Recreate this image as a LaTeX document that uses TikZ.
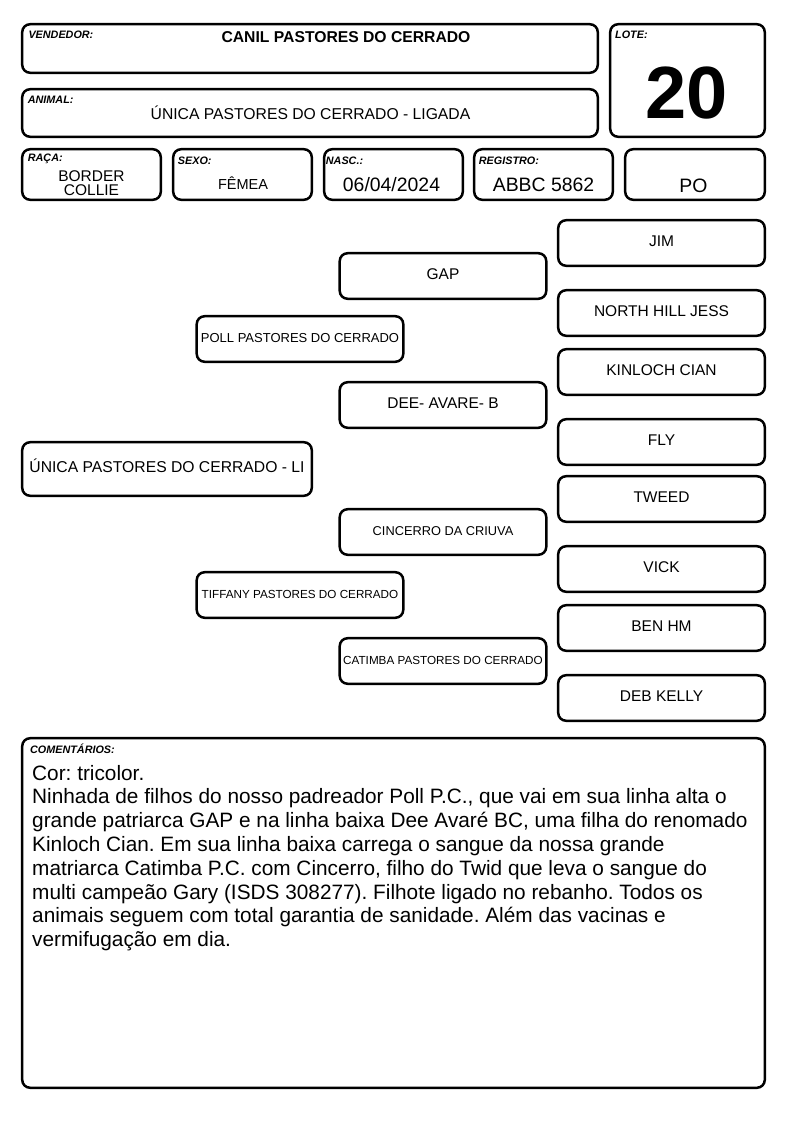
\documentclass[tikz,border=0pt]{standalone}
\usepackage{fontspec}
\setmainfont{Liberation Sans}
\frenchspacing
\begin{document}
\begin{tikzpicture}[x=1pt,y=-1pt,
  box/.style={draw=black, line width=2.5pt, rounded corners=8pt, inner sep=0pt, outer sep=0pt},
  lbl/.style={font=\fontsize{10.8}{12}\selectfont\bfseries\itshape, inner sep=0pt, anchor=base west},
  val/.style={font=\fontsize{15.5}{18}\selectfont, inner sep=0pt, anchor=base},
  bigval/.style={font=\fontsize{19.4}{22}\selectfont, inner sep=0pt, anchor=base},
  ped/.style={box, minimum width=206.6pt, minimum height=45.6pt, font=\fontsize{15.5}{18}\selectfont, text height=0.72em, text depth=0pt},
  pedsmall/.style={ped, font=\fontsize{13}{15}\selectfont},
  pedtiny/.style={ped, font=\fontsize{11.7}{14}\selectfont},
]
\useasboundingbox (0,0) rectangle (794,1123);

% header boxes
\node[box, minimum width=575.6pt, minimum height=48.6pt] (vend) at (310,48.5) {};
\node[box, minimum width=575.6pt, minimum height=47.6pt] (anim) at (310,113) {};
\node[box, minimum width=154.6pt, minimum height=112.6pt] (lote) at (687.5,80.5) {};
\node[box, minimum width=138.6pt, minimum height=50.6pt] (raca) at (91.5,174.5) {};
\node[box, minimum width=138.6pt, minimum height=50.6pt] (sexo) at (242.5,174.5) {};
\node[box, minimum width=138.6pt, minimum height=50.6pt] (nasc) at (393.5,174.5) {};
\node[box, minimum width=138.6pt, minimum height=50.6pt] (regi) at (543.5,174.5) {};
\node[box, minimum width=139.6pt, minimum height=50.6pt] (tipo) at (695,174.5) {};

% labels
\node[lbl] (lvend) at (28.3,39) {VENDEDOR:};
\node[lbl] (lanim) at (27.7,103.3) {ANIMAL:};
\node[lbl] (llote) at (615,38.3) {LOTE:};
\node[lbl] (lraca) at (27.7,161.7) {RAÇA:};
\node[lbl] (lsexo) at (177.7,165) {SEXO:};
\node[lbl] (lnasc) at (325.7,165) {NASC.:};
\node[lbl] (lregi) at (478.7,165) {REGISTRO:};

% values
\node[val, font=\fontsize{15.7}{18}\selectfont\bfseries] (vvend) at (346,43) {CANIL PASTORES DO CERRADO};
\node[val, font=\fontsize{15.7}{18}\selectfont] (vanim) at (310.5,120) {ÚNICA PASTORES DO CERRADO - LIGADA};
\node[val, font=\fontsize{74}{80}\selectfont\bfseries] (vlote) at (686.5,118.5) {20};
\node[val] (vraca1) at (91.5,181.7) {BORDER};
\node[val] (vraca2) at (91.5,195.3) {COLLIE};
\node[val, font=\fontsize{14.5}{17}\selectfont] (vsexo) at (243,190) {FÊMEA};
\node[bigval] (vnasc) at (391.5,192) {06/04/2024};
\node[bigval] (vregi) at (543.5,192) {ABBC 5862};
\node[bigval] (vtipo) at (693.5,192.5) {PO};

% pedigree
\node[box, minimum width=289.6pt, minimum height=53.6pt, font=\fontsize{15.7}{18}\selectfont, text height=0.72em, text depth=0pt] (p0) at (167,469) {ÚNICA PASTORES DO CERRADO - LI};
\node[pedsmall] (p1) at (300,339) {POLL PASTORES DO CERRADO};
\node[pedtiny] (p2) at (300,595) {TIFFANY PASTORES DO CERRADO};
\node[ped] (p3) at (443,276) {GAP};
\node[ped] (p4) at (443,405) {DEE- AVARE- B};
\node[pedsmall, font=\fontsize{12.8}{15}\selectfont] (p5) at (443,532) {CINCERRO DA CRIUVA};
\node[pedtiny] (p6) at (443,661) {CATIMBA PASTORES DO CERRADO};
\node[ped] (p7) at (661.5,243) {JIM};
\node[ped] (p8) at (661.5,313) {NORTH HILL JESS};
\node[ped] (p9) at (661.5,372) {KINLOCH CIAN};
\node[ped] (p10) at (661.5,442) {FLY};
\node[ped] (p11) at (661.5,499) {TWEED};
\node[ped] (p12) at (661.5,569) {VICK};
\node[ped] (p13) at (661.5,628) {BEN HM};
\node[ped] (p14) at (661.5,698) {DEB KELLY};

% comments
\node[box, minimum width=742.6pt, minimum height=349.6pt] (coment) at (393.5,913) {};
\node[lbl] (lcoment) at (30,753.3) {COMENTÁRIOS:};
\node[inner sep=0pt, anchor=north west, align=left, font=\fontsize{20.8}{23.8}\selectfont] (tcoment) at (32,764.8) {Cor: tricolor.\\
Ninhada de filhos do nosso padreador Poll P.C., que vai em sua linha alta o\\
grande patriarca GAP e na linha baixa Dee Avaré BC, uma filha do renomado\\
Kinloch Cian. Em sua linha baixa carrega o sangue da nossa grande\\
matriarca Catimba P.C. com Cincerro, filho do Twid que leva o sangue do\\
multi campeão Gary (ISDS 308277). Filhote ligado no rebanho. Todos os\\
animais seguem com total garantia de sanidade. Além das vacinas e\\
vermifugação em dia.};
\end{tikzpicture}
\end{document}
